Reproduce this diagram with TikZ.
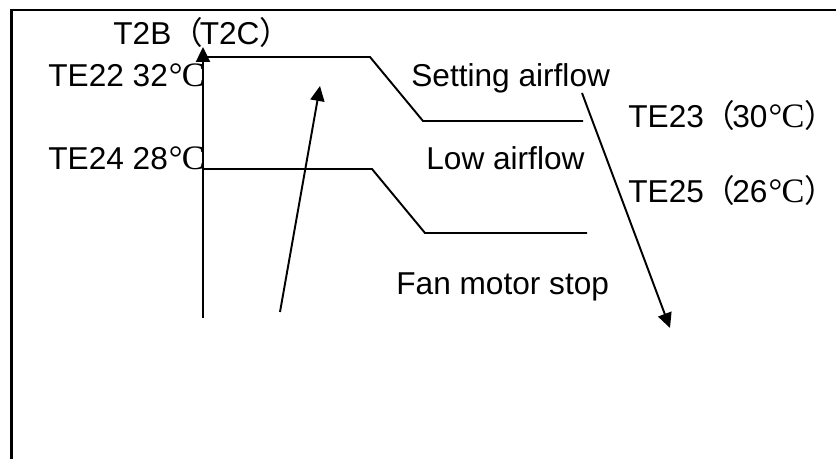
\documentclass[tikz,border=0pt]{standalone}
\usepackage{fontspec}
\setmainfont{Liberation Sans}
\newfontfamily\cjk{Noto Sans CJK SC}
\newfontfamily\degfont{Liberation Serif}
\usetikzlibrary{arrows.meta}
\newcommand{\degC}{{\degfont\fontsize{19.5}{20}\selectfont\kern0.03em\char"00B0\kern-0.02em C}}
\newcommand{\lpar}{{\cjk （}\kern-0.1em}
\newcommand{\rpar}{{\cjk ）}\kern-0.6em}

\begin{document}
\begin{tikzpicture}[x=0.02cm,y=-0.02cm,
    lbl/.style={anchor=base west,inner sep=0pt,font=\fontsize{18}{21}\selectfont},
    curve/.style={line width=1.1pt},
    tip/.style={line width=1.1pt,-{Triangle[length=8.5pt,width=8pt]}}]
            \useasboundingbox (0,0) rectangle (836,459);
            \draw[line width=1.5pt] (11.5,475) -- (11.5,10) -- (850,10);
            \coordinate (o) at (203,318);
            \coordinate (top) at (203,47);
            \coordinate (hi1) at (203,57);
            \coordinate (hi2) at (370,57);
            \coordinate (hi3) at (423,121);
            \coordinate (hi4) at (583,121);
            \coordinate (lo1) at (203,169);
            \coordinate (lo2) at (372,169);
            \coordinate (lo3) at (425,233);
            \coordinate (lo4) at (587,233);
            \coordinate (rise0) at (280,312);
            \coordinate (rise1) at (320,86);
            \coordinate (fall0) at (582,93);
            \coordinate (fall1) at (670,328);
            \draw[tip] (o) -- (top);
            \draw[curve] (hi1) -- (hi2) -- (hi3) -- (hi4);
            \draw[curve] (lo1) -- (lo2) -- (lo3) -- (lo4);
            \draw[tip] (rise0) -- (rise1);
            \draw[tip] (fall0) -- (fall1);
            \node[lbl] (t2b) at (113,45) {T2B\lpar T2C\rpar};
            \node[lbl] (te22) at (48,87) {TE22 32\degC};
            \node[lbl] (te24) at (48,170) {TE24 28\degC};
            \node[lbl] (setting) at (411,87) {Setting airflow};
            \node[lbl] (te23) at (628,128) {TE23\lpar 30\degC\rpar};
            \node[lbl] (low) at (426,170) {Low airflow};
            \node[lbl] (te25) at (628,203) {TE25\lpar 26\degC\rpar};
            \node[lbl] (stop) at (396,295) {Fan motor stop};
        \end{tikzpicture}
\end{document}
